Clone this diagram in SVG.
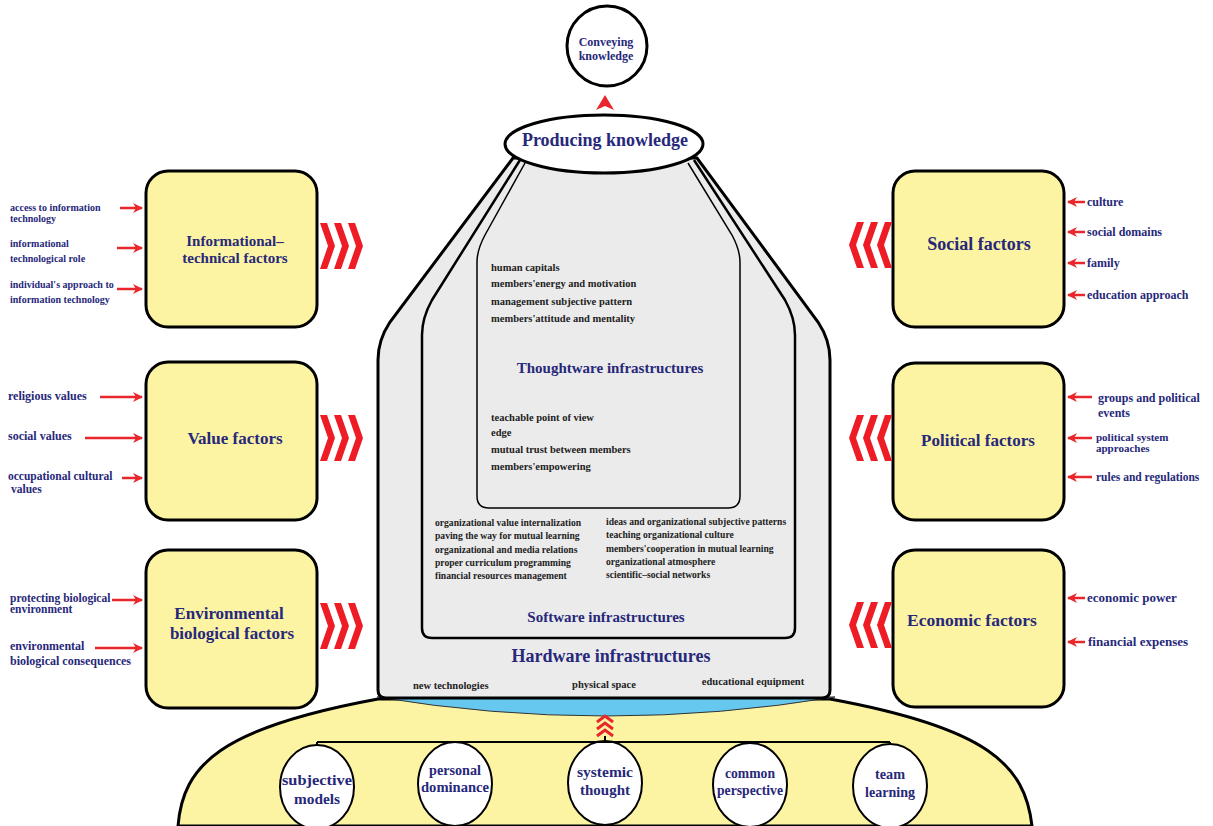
<svg xmlns="http://www.w3.org/2000/svg" width="1213" height="826" viewBox="0 0 1213 826">
<style>
text{font-family:"Liberation Serif","Times New Roman",serif;font-weight:bold}
.nv{fill:#27287a}
.dk{fill:#222222}
.box{fill:#fcf4a3;stroke:#000;stroke-width:3}
.arr{stroke:#e8262b;stroke-width:2.5;fill:none;marker-end:url(#ah)}
.chev{fill:#ee1c25}
.ln{stroke:#000;stroke-width:2;fill:none}
.c{text-anchor:middle}
.bn{fill:#fff;stroke:#000;stroke-width:2}
.bt{font-size:15px;fill:#27287a;text-anchor:middle}
</style>
<defs>
<marker id="ah" viewBox="0 0 10 10" refX="9" refY="5" markerWidth="4" markerHeight="4" orient="auto" markerUnits="strokeWidth">
<path d="M0,0 L10,5 L0,10 L3,5 Z" fill="#e8262b"/>
</marker>
<g id="chr">
<path class="chev" d="M0,0 H7 L15,23 L7,46 H0 L8,23 Z"/>
<path class="chev" d="M14,0 H21 L29,23 L21,46 H14 L22,23 Z"/>
<path class="chev" d="M28,0 H35 L43,23 L35,46 H28 L36,23 Z"/>
</g>
</defs>

<g id="base">
<path d="M178,826 C183,765 220,728 378,699 L830,699 C988,728 1025,765 1032,826 Z" fill="#fcf4a3" stroke="#000" stroke-width="3"/>
</g>

<g id="hardware">
<path d="M377,697 L835,697 Q606,735 377,697 Z" fill="#66c8ef" stroke="#333" stroke-width="1"/>
<path d="M513,158 L390,322 Q378,340 378,360 L378,690 Q378,698 386,698 L822,698 Q830,698 830,690 L830,360 Q830,340 818,322 L697,158 Z" fill="#ebebeb" stroke="#000" stroke-width="3"/>
<text class="nv c" x="611" y="662" font-size="18">Hardware infrastructures</text>
<text class="dk" x="413" y="689" font-size="10.5">new technologies</text>
<text class="dk c" x="604" y="688" font-size="10.5">physical space</text>
<text class="dk c" x="753" y="685" font-size="10.5">educational equipment</text>
</g>

<g id="software">
<path d="M520,160 L432,300 Q422,318 422,335 L422,628 Q422,638 432,638 L785,638 Q795,638 795,628 L795,335 Q795,318 785,300 L694,160" fill="none" stroke="#000" stroke-width="2.5"/>
<g class="dk" font-size="9.6">
<text x="435" y="526">organizational value internalization</text>
<text x="435" y="539">paving the way for mutual learning</text>
<text x="435" y="553">organizational and media relations</text>
<text x="435" y="566">proper curriculum programming</text>
<text x="435" y="579">financial resources management</text>
<text x="606" y="525">ideas and organizational subjective patterns</text>
<text x="606" y="538">teaching organizational culture</text>
<text x="606" y="552">members'cooperation in mutual learning</text>
<text x="606" y="565">organizational atmosphere</text>
<text x="606" y="578">scientific–social networks</text>
</g>
<text class="nv c" x="606" y="622" font-size="15">Software infrastructures</text>
</g>

<g id="thoughtware">
<path d="M525,163 L485,235 Q477,250 477,262 L477,496 Q477,508 489,508 L728,508 Q740,508 740,496 L740,262 Q740,250 732,235 L688,163" fill="none" stroke="#000" stroke-width="1.5"/>
<g class="dk" font-size="10.5">
<text x="491" y="271">human capitals</text>
<text x="491" y="287">members'energy and motivation</text>
<text x="491" y="305">management subjective pattern</text>
<text x="491" y="322">members'attitude and mentality</text>
<text x="491" y="421">teachable point of view</text>
<text x="491" y="436">edge</text>
<text x="491" y="453">mutual trust between members</text>
<text x="491" y="470">members'empowering</text>
</g>
<text class="nv c" x="610" y="373" font-size="15">Thoughtware infrastructures</text>
</g>

<g id="producing">
<ellipse cx="604" cy="144" rx="99" ry="29" fill="#fff" stroke="#000" stroke-width="3"/>
<text class="nv c" x="605" y="146" font-size="18">Producing knowledge</text>
</g>

<g id="conveying">
<circle cx="607" cy="46" r="40" fill="#fff" stroke="#000" stroke-width="3"/>
<text class="nv c" x="606" y="46" font-size="12">Conveying</text>
<text class="nv c" x="606" y="60" font-size="12">knowledge</text>
</g>

<g id="informational">
<rect class="box" x="146" y="171" width="171" height="156" rx="22"/>
<text class="nv c" x="235" y="246" font-size="15">Informational–</text>
<text class="nv c" x="235" y="263" font-size="15">technical factors</text>
</g>
<g id="value">
<rect class="box" x="146" y="362" width="171" height="158" rx="22"/>
<text class="nv c" x="235" y="444" font-size="17">Value factors</text>
</g>
<g id="environmental">
<rect class="box" x="146" y="550" width="171" height="158" rx="22"/>
<text class="nv c" x="229" y="619" font-size="17">Environmental</text>
<text class="nv c" x="232" y="639" font-size="17">biological factors</text>
</g>
<g id="social">
<rect class="box" x="893" y="171" width="171" height="156" rx="22"/>
<text class="nv c" x="979" y="250" font-size="18">Social factors</text>
</g>
<g id="political">
<rect class="box" x="893" y="363" width="171" height="157" rx="22"/>
<text class="nv c" x="978" y="446" font-size="17">Political factors</text>
</g>
<g id="economic">
<rect class="box" x="893" y="550" width="171" height="157" rx="22"/>
<text class="nv c" x="972" y="626" font-size="17.5">Economic factors</text>
</g>

<g id="bottom-nodes">
<g id="n-subjective"><ellipse class="bn" cx="317" cy="787" rx="37" ry="42"/>
<text class="bt" x="317" y="785" textLength="70" lengthAdjust="spacingAndGlyphs">subjective</text><text class="bt" x="317" y="804" textLength="46" lengthAdjust="spacingAndGlyphs">models</text></g>
<g id="n-personal"><ellipse class="bn" cx="455" cy="784" rx="37" ry="42"/>
<text class="bt" x="455" y="775" textLength="52" lengthAdjust="spacingAndGlyphs">personal</text><text class="bt" x="455" y="792" textLength="68" lengthAdjust="spacingAndGlyphs">dominance</text></g>
<g id="n-systemic"><ellipse class="bn" cx="605" cy="783" rx="37" ry="42"/>
<text class="bt" x="605" y="777" textLength="56" lengthAdjust="spacingAndGlyphs">systemic</text><text class="bt" x="605" y="795" textLength="50" lengthAdjust="spacingAndGlyphs">thought</text></g>
<g id="n-common"><ellipse class="bn" cx="750" cy="785" rx="37" ry="42"/>
<text class="bt" x="750" y="778" textLength="50" lengthAdjust="spacingAndGlyphs">common</text><text class="bt" x="750" y="795" textLength="66" lengthAdjust="spacingAndGlyphs">perspective</text></g>
<g id="n-team"><ellipse class="bn" cx="890" cy="786" rx="37" ry="42"/>
<text class="bt" x="890" y="779" textLength="30" lengthAdjust="spacingAndGlyphs">team</text><text class="bt" x="890" y="797" textLength="50" lengthAdjust="spacingAndGlyphs">learning</text></g>
</g>

<g id="connectors">
<path class="ln" d="M317,742 H890 M317,742 V745 M455,742 V743 M605,742 V736 M750,742 V744 M890,742 V745"/>
<polyline points="597,722 605,716 613,722" fill="none" stroke="#e8262b" stroke-width="3"/>
<polyline points="597,729 605,723 613,729" fill="none" stroke="#e8262b" stroke-width="3"/>
<polyline points="597,736 605,730 613,736" fill="none" stroke="#e8262b" stroke-width="3"/>
<path d="M605,95 L614,110 L605,106 L596,110 Z" fill="#e8262b"/>
<use href="#chr" transform="translate(320,223)"/>
<use href="#chr" transform="translate(320,415)"/>
<use href="#chr" transform="translate(320,603)"/>
<use href="#chr" transform="translate(892,222) scale(-1,1)"/>
<use href="#chr" transform="translate(892,415) scale(-1,1)"/>
<use href="#chr" transform="translate(892,602) scale(-1,1)"/>
<line class="arr" x1="120" y1="208" x2="142" y2="208"/>
<line class="arr" x1="117" y1="248" x2="142" y2="248"/>
<line class="arr" x1="117" y1="289" x2="142" y2="289"/>
<line class="arr" x1="100" y1="397" x2="142" y2="397"/>
<line class="arr" x1="85" y1="438" x2="142" y2="438"/>
<line class="arr" x1="122" y1="478" x2="142" y2="478"/>
<line class="arr" x1="112" y1="600" x2="142" y2="600"/>
<line class="arr" x1="95" y1="648" x2="142" y2="648"/>
<line class="arr" x1="1085" y1="202" x2="1068" y2="202"/>
<line class="arr" x1="1085" y1="232" x2="1068" y2="232"/>
<line class="arr" x1="1085" y1="263" x2="1068" y2="263"/>
<line class="arr" x1="1085" y1="295" x2="1068" y2="295"/>
<line class="arr" x1="1092" y1="397" x2="1068" y2="397"/>
<line class="arr" x1="1092" y1="438" x2="1068" y2="438"/>
<line class="arr" x1="1092" y1="477" x2="1068" y2="477"/>
<line class="arr" x1="1085" y1="598" x2="1068" y2="598"/>
<line class="arr" x1="1085" y1="642" x2="1068" y2="642"/>
</g>

<g id="labels" class="nv">
<g font-size="10">
<text x="10" y="211">access to information</text>
<text x="10" y="222">technology</text>
<text x="10" y="247">informational</text>
<text x="10" y="262">technological role</text>
<text x="10" y="288">individual's approach to</text>
<text x="10" y="303">information technology</text>
</g>
<g font-size="12">
<text x="8" y="400">religious values</text>
<text x="8" y="440">social values</text>
<text x="8" y="480" font-size="11.5">occupational cultural</text>
<text x="11" y="493" font-size="11.5">values</text>
<text x="10" y="602" font-size="11.5">protecting biological</text>
<text x="10" y="613" font-size="11.5">environment</text>
<text x="10" y="650">environmental</text>
<text x="10" y="665">biological consequences</text>
<text x="1087" y="206">culture</text>
<text x="1087" y="236">social domains</text>
<text x="1087" y="267">family</text>
<text x="1087" y="299">education approach</text>
<text x="1098" y="402">groups and political</text>
<text x="1098" y="417">events</text>
<text x="1096" y="441" font-size="11">political system</text>
<text x="1096" y="452" font-size="11">approaches</text>
<text x="1096" y="481" font-size="11.5">rules and regulations</text>
<text x="1087" y="602" font-size="13">economic power</text>
<text x="1088" y="646" font-size="13">financial expenses</text>
</g>
</g>
</svg>
